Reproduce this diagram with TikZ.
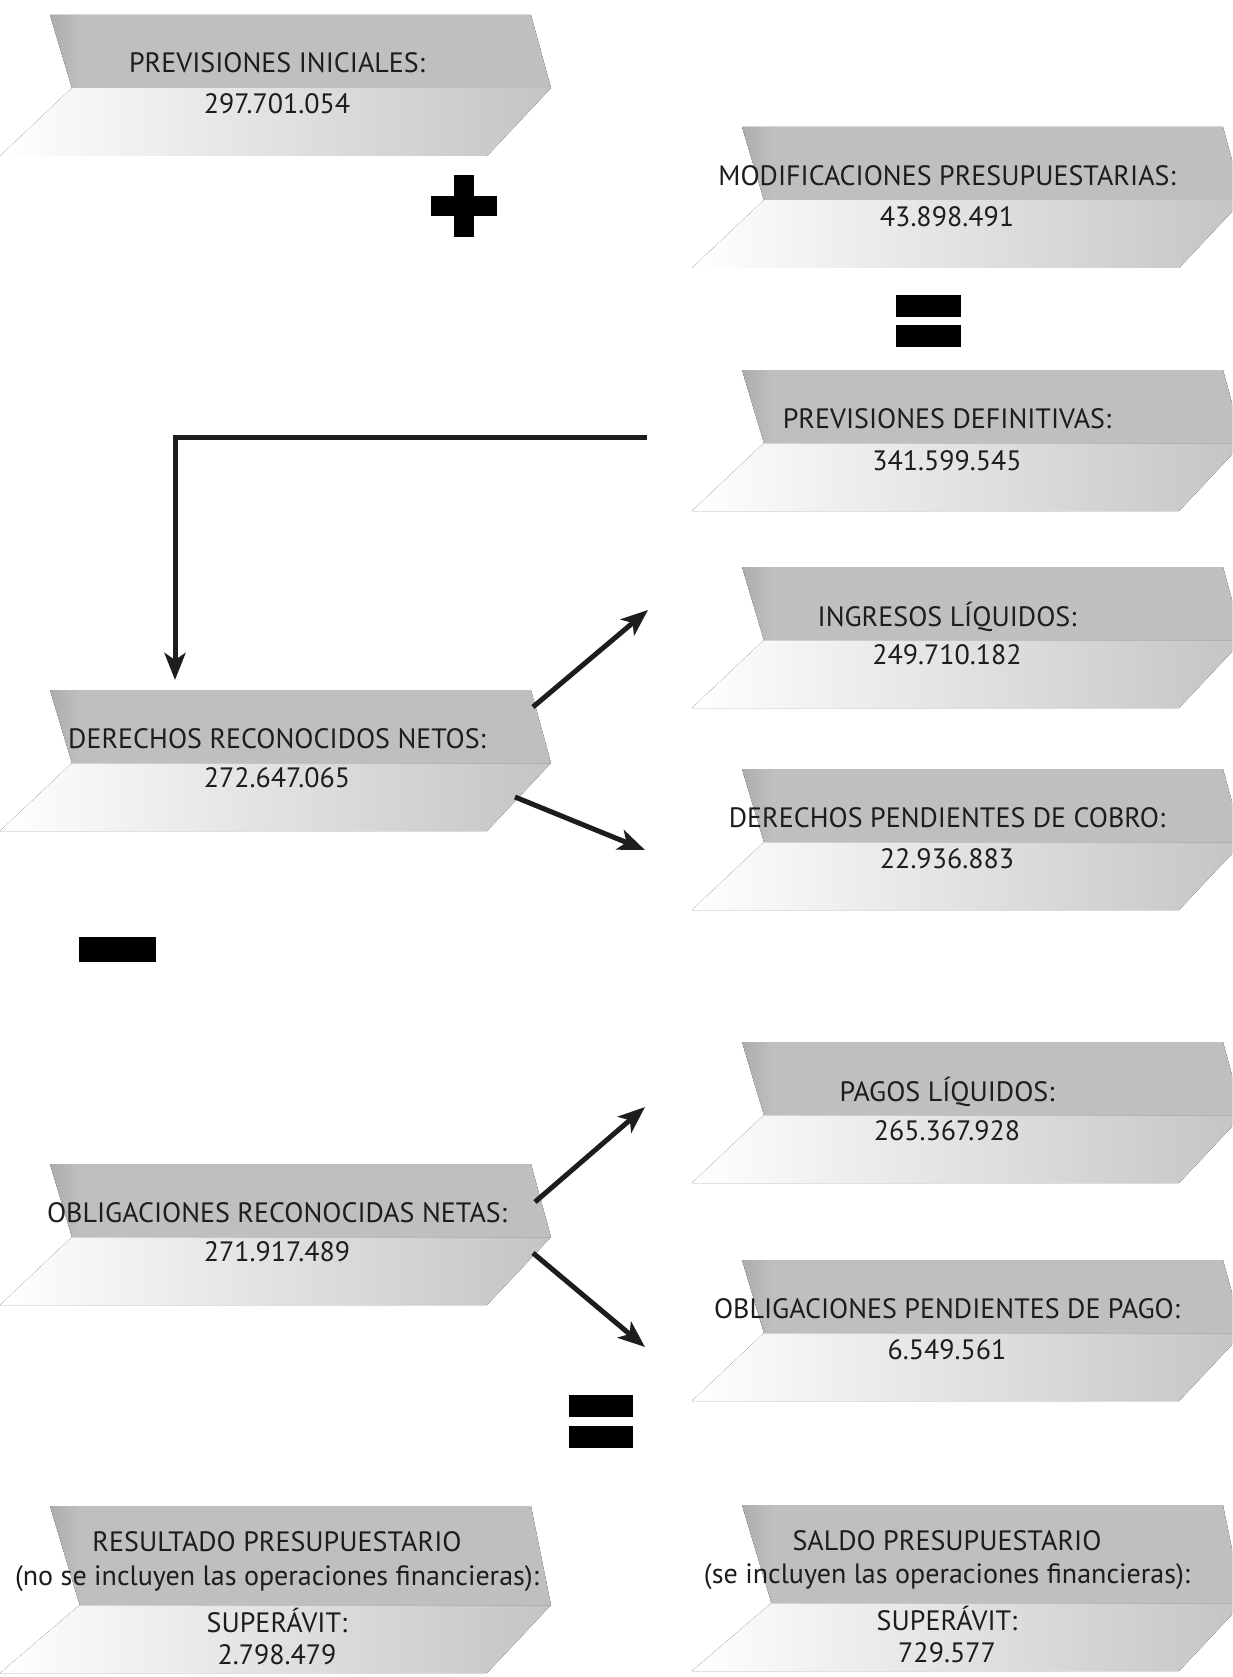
\documentclass[tikz,border=0pt]{standalone}
\usepackage{fontspec}
\setmainfont{PT Sans}
\usetikzlibrary{arrows.meta}
\definecolor{bandgray}{RGB}{191,191,191}
\definecolor{fadegray}{RGB}{196,196,196}
\definecolor{edgegray}{RGB}{172,172,172}
\definecolor{inkc}{RGB}{30,28,29}
\pgfdeclarehorizontalshading{bandshade}{100bp}{color(0bp)=(edgegray); color(25bp)=(edgegray); color(28bp)=(bandgray); color(100bp)=(bandgray)}
\pgfdeclarehorizontalshading{lowshade}{100bp}{color(0bp)=(white); color(25bp)=(white); color(31bp)=(white!97!black); color(75bp)=(fadegray); color(100bp)=(fadegray)}
\tikzset{
  lbl/.style={font=\fontsize{28}{32}\selectfont, text=inkc, inner sep=0pt,
    text height=20pt, text depth=0pt, anchor=center},
  conn/.style={line width=5pt, draw=inkc, -{Stealth[length=27pt,width=21pt,inset=7pt]}},
  sym/.style={fill=black},
}
% #1 = left x of top edge, #2 = top y, #3 = height of the grey band
\newcommand\banner[3]{%
  \fill[shading=lowshade]
    (#1+0.3*#3,#2+#3) -- (#1+501,#2+#3) -- (#1+437,#2+#3+68) -- (#1-50,#2+#3+68) -- cycle;
  \fill[shading=bandshade] (#1,#2) -- (#1+481,#2) -- (#1+501,#2+#3) -- (#1+0.3*#3,#2+#3) -- cycle;
}
\begin{document}
\begin{tikzpicture}[x=1pt,y=-1pt]
\useasboundingbox (0,0) rectangle (1232,1677);
\clip (0,0) rectangle (1232,1677);
\fill[white] (0,0) rectangle (1232,1677);

% banners
\banner{50}{15}{73}
\banner{742}{127}{73}
\banner{742}{370}{73}
\banner{742}{567}{73}
\banner{50}{690}{73}
\banner{742}{769}{73}
\banner{742}{1042}{73}
\banner{50}{1164}{73}
\banner{742}{1260}{73}
\banner{50}{1506}{99}
\banner{742}{1505}{98}

% texts
\node[lbl] (b1t) at (277,63) {PREVISIONES INICIALES:};
\node[lbl] (b1n) at (277,104) {297.701.054};
\node[lbl] (b2t) at (947,176) {MODIFICACIONES PRESUPUESTARIAS:};
\node[lbl] (b2n) at (947,217) {43.898.491};
\node[lbl] (b3t) at (947,418) {PREVISIONES DEFINITIVAS:};
\node[lbl] (b3n) at (947,460) {341.599.545};
\node[lbl] (b4t) at (947,616) {INGRESOS LÍQUIDOS:};
\node[lbl] (b4n) at (947,654) {249.710.182};
\node[lbl] (b5t) at (277,738) {DERECHOS RECONOCIDOS NETOS:};
\node[lbl] (b5n) at (277,777) {272.647.065};
\node[lbl] (b6t) at (947,817) {DERECHOS PENDIENTES DE COBRO:};
\node[lbl] (b6n) at (947,858) {22.936.883};
\node[lbl] (b7t) at (947,1091) {PAGOS LÍQUIDOS:};
\node[lbl] (b7n) at (947,1130) {265.367.928};
\node[lbl] (b8t) at (277,1212) {OBLIGACIONES RECONOCIDAS NETAS:};
\node[lbl] (b8n) at (277,1251) {271.917.489};
\node[lbl] (b9t) at (947,1308) {OBLIGACIONES PENDIENTES DE PAGO:};
\node[lbl] (b9n) at (947,1349) {6.549.561};
\node[lbl] (b10a) at (277,1541) {RESULTADO PRESUPUESTARIO};
\node[lbl] (b10b) at (277,1575) {(no se incluyen las operaciones financieras):};
\node[lbl] (b10c) at (277,1622) {SUPERÁVIT:};
\node[lbl] (b10d) at (277,1654) {2.798.479};
\node[lbl] (b11a) at (947,1540) {SALDO PRESUPUESTARIO};
\node[lbl] (b11b) at (947,1573) {(se incluyen las operaciones financieras):};
\node[lbl] (b11c) at (947,1620) {SUPERÁVIT:};
\node[lbl] (b11d) at (947,1652) {729.577};

% operator signs
\fill[sym] (431,196) rectangle (497,216);
\fill[sym] (454,175) rectangle (474,237);
\fill[sym] (896,295) rectangle (961,317);
\fill[sym] (896,325) rectangle (961,347);
\fill[sym] (79,937) rectangle (156,962);
\fill[sym] (569,1395) rectangle (633,1417);
\fill[sym] (569,1426) rectangle (633,1448);

% connector end points
\coordinate (b3out) at (647,437);
\coordinate (b5in) at (175,680);
\coordinate (b5o1) at (533,707);
\coordinate (b4in) at (648,610);
\coordinate (b5o2) at (515,797);
\coordinate (b6in) at (645,850);
\coordinate (b8o1) at (535,1202);
\coordinate (b7in) at (645,1107);
\coordinate (b8o2) at (533,1253);
\coordinate (b9in) at (645,1347);

% connectors
\draw[conn] (b3out) -| (b5in);
\draw[conn] (b5o1) -- (b4in);
\draw[conn] (b5o2) -- (b6in);
\draw[conn] (b8o1) -- (b7in);
\draw[conn] (b8o2) -- (b9in);
\end{tikzpicture}
\end{document}
